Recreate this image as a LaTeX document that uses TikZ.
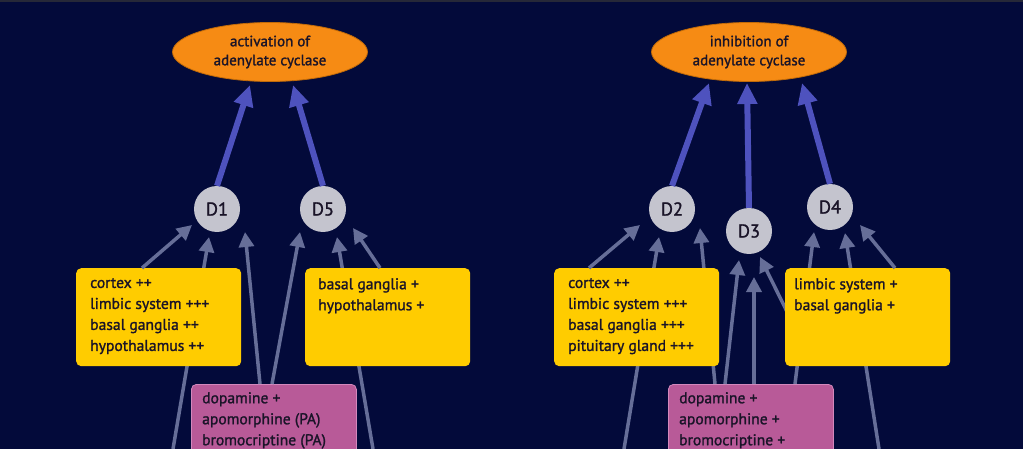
\documentclass[tikz,border=0pt]{standalone}
\usepackage{fontspec}
\setmainfont{PT Sans}[FakeBold=1.4]
\usetikzlibrary{arrows.meta,shapes.geometric,calc}
\definecolor{bgnavy}{HTML}{030A3A}
\definecolor{topstrip}{HTML}{262838}
\definecolor{effectfill}{HTML}{F68B14}
\definecolor{effectline}{HTML}{C06A08}
\definecolor{recfill}{HTML}{C4C4CE}
\definecolor{yboxfill}{HTML}{FFCC00}
\definecolor{pboxfill}{HTML}{B85A98}
\definecolor{pboxline}{HTML}{D388BC}
\definecolor{thickblue}{HTML}{4E52BE}
\definecolor{thingray}{HTML}{666E98}
\definecolor{txtdark}{HTML}{1A1428}
\begin{document}
\begin{tikzpicture}[x=1pt,y=-1pt,
  effect/.style={ellipse, fill=effectfill, draw=effectline, line width=0.8pt,
    minimum width=195pt, minimum height=59pt, inner sep=0pt, align=center,
    text=txtdark, font=\fontsize{15}{19}\selectfont},
  rec/.style={circle, fill=recfill, minimum size=46pt, inner sep=0pt,
    text=txtdark, font=\fontsize{18.5}{20}\selectfont},
  ybox/.style={rectangle, rounded corners=5pt, fill=yboxfill,
    minimum width=165pt, minimum height=98pt, anchor=north west, inner sep=0pt},
  pbox/.style={rectangle, rounded corners=5pt, fill=pboxfill, draw=pboxline, line width=0.8pt,
    minimum width=165pt, minimum height=90pt, anchor=north west, inner sep=0pt},
  txt/.style={anchor=north west, align=left, inner sep=0pt, text=txtdark,
    font=\fontsize{15.6}{21}\selectfont},
  thick arrow/.style={draw=thickblue, line width=6pt,
    -{Triangle[width=19pt,length=21pt]}},
  thin arrow/.style={draw=thingray, line width=3.5pt,
    -{Triangle[width=15pt,length=15pt]}},
]
\fill[bgnavy] (0,0) rectangle (1023,449);
\useasboundingbox (0,0) rectangle (1023,449);
\fill[topstrip] (0,0) rectangle (1023,2);
\clip (0,0) rectangle (1023,449);

% effect ellipses
\node[effect] (act) at (270,52) {activation of\\adenylate cyclase};
\node[effect] (inh) at (749,52) {inhibition of\\adenylate cyclase};

% receptors
\node[rec] (D1) at (217,209) {D1};
\node[rec] (D5) at (323,209) {D5};
\node[rec] (D2) at (672,209) {D2};
\node[rec] (D3) at (749,231) {D3};
\node[rec] (D4) at (830,207) {D4};

% thick arrows to effects
\draw[thick arrow] (D1.north) -- ($(act)+(-20,33)$);
\draw[thick arrow] (D5.north) -- ($(act)+(23,33)$);
\draw[thick arrow] (D2.north) -- ($(inh)+(-40,31)$);
\draw[thick arrow] (D3.north) -- ($(inh)+(-2,31)$);
\draw[thick arrow] (D4.north) -- ($(inh)+(53,31)$);

% tail coordinates (off the bottom / hidden inside boxes)
\coordinate (b1) at (173,449);
\coordinate (b5) at (373,449);
\coordinate (b2) at (624,449);
\coordinate (b4) at (879,449);
\coordinate (h3) at (802,342);
\coordinate (h9) at (715,384);
\coordinate (h13) at (795,384);

% thin arrows hidden behind boxes (drawn first)
\draw[thin arrow] (b1) -- ($(D1)+(-8,28)$);
\draw[thin arrow] (b5) -- ($(D5)+(14,28)$);
\draw[thin arrow] (b2) -- ($(D2)+(-13,28)$);
\draw[thin arrow] (b4) -- ($(D4)+(15,26)$);
\draw[thin arrow] (h3) -- ($(D3)+(11,26)$);
\draw[thin arrow] (h9) -- ($(D2)+(28,19)$);
\draw[thin arrow] (h13) -- ($(D4)+(-16,25)$);

% yellow boxes
\node[ybox] (y1) at (76,268) {};
\node[ybox] (y2) at (305,268) {};
\node[ybox] (y3) at (554,268) {};
\node[ybox] (y4) at (785,268) {};
\node[txt] (y1t) at ($(y1.north west)+(14,10)$) {cortex ++\\limbic system +++\\basal ganglia ++\\hypothalamus ++};
\node[txt] (y2t) at ($(y2.north west)+(13,10)$) {basal ganglia +\\hypothalamus +};
\node[txt] (y3t) at ($(y3.north west)+(14,10)$) {cortex ++\\limbic system +++\\basal ganglia +++\\pituitary gland +++};
\node[txt] (y4t) at ($(y4.north west)+(9,10)$) {limbic system +\\basal ganglia +};

% pink boxes
\node[pbox] (p1) at (191,384) {};
\node[pbox] (p2) at (668,384) {};
\node[txt] (p1t) at ($(p1.north west)+(11,8)$) {dopamine +\\apomorphine (PA)\\bromocriptine (PA)};
\node[txt] (p2t) at ($(p2.north west)+(11,8)$) {dopamine +\\apomorphine +\\bromocriptine +};

% thin arrows from box tops
\draw[thin arrow] ($(y1.north west)+(66,0)$) -- ($(D1)+(-25,16)$);
\draw[thin arrow] ($(p1.north west)+(69,0)$) -- ($(D1)+(28,23)$);
\draw[thin arrow] ($(p1.north west)+(81,0)$) -- ($(D5)+(-23,23)$);
\draw[thin arrow] ($(y2.north west)+(75,0)$) -- ($(D5)+(30,19)$);
\draw[thin arrow] ($(y3.north west)+(35,0)$) -- ($(D2)+(-32,16)$);
\draw[thin arrow] ($(p2.north west)+(57,0)$) -- ($(D3)+(-10,29)$);
\draw[thin arrow] ($(p2.north west)+(86,0)$) -- ($(D3)+(5,46)$);
\draw[thin arrow] ($(y4.north west)+(110,0)$) -- ($(D4)+(30,18)$);
\end{tikzpicture}
\end{document}
